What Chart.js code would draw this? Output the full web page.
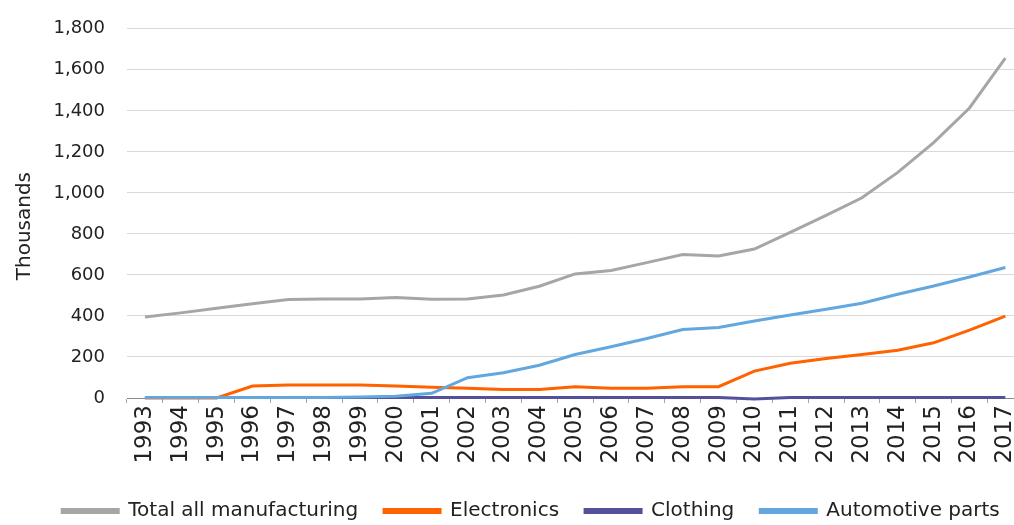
<!DOCTYPE html>
<html>
<head>
<meta charset="utf-8">
<script src="https://cdn.jsdelivr.net/npm/chart.js@4.4.1/dist/chart.umd.min.js"></script>
<style>
  html, body { margin: 0; padding: 0; background: #fff; overflow: hidden; }
  #wrap { position: absolute; left: 0; top: -4px; width: 1035px; height: 529px; }
</style>
</head>
<body>
<div id="wrap"><canvas id="lineChart"></canvas></div>
<script>
const years = ['1993', '1994', '1995', '1996', '1997', '1998', '1999', '2000', '2001', '2002', '2003', '2004', '2005',
    '2006', '2007', '2008', '2009', '2010', '2011', '2012', '2013', '2014', '2015', '2016', '2017'];
const totalManufacturing = [395, 415, 438, 460, 480, 483, 483, 490, 482, 483, 502, 545, 605,
    622, 660, 700, 692, 726, 808, 890, 976, 1100, 1245, 1414, 1657];
const electronics = [0, 0, 0, 58, 63, 63, 63, 58, 53, 47, 42, 42, 55,
    47, 47, 55, 55, 131, 169, 193, 212, 233, 269, 331, 399];
const clothing = [3, 3, 3, 3, 3, 3, 3, 3, 3, 3, 3, 3, 3,
    3, 3, 3, 3, -5, 2, 2, 2, 2, 2, 2, 2];
const automotiveParts = [2, 2, 2, 2, 2, 3, 5, 8, 23, 99, 123, 160, 212,
    250, 290, 334, 344, 375, 405, 433, 462, 506, 546, 590, 636];
const yTicks = [0, 200, 400, 600, 800, 1000, 1200, 1400, 1600, 1800];

const textColor = '#222';

function series(label, data, color) {
    return {
        label: label,
        data: data,
        borderColor: color,
        backgroundColor: color,
        borderWidth: 3,
        pointRadius: 0,
        tension: 0,
        clip: false
    };
}

// nudge the legend row a little to the right
const legendShift = {
    id: 'legendShift',
    afterLayout(chart) {
        chart.legend.left += 15;
        chart.legend.right += 15;
    }
};

// first dataset is painted last, so automotive sits on top; legend is reversed back
new Chart(document.getElementById('lineChart'), {
    type: 'line',
    data: {
        labels: years,
        datasets: [
            series('Automotive parts', automotiveParts, '#63a7de'),
            series('Clothing', clothing, '#54519a'),
            series('Electronics', electronics, '#ff6200'),
            series('Total all manufacturing', totalManufacturing, '#a6a6a6')
        ]
    },
    plugins: [legendShift],
    options: {
        responsive: true,
        maintainAspectRatio: false,
        animation: false,
        layout: { padding: { top: 24, right: 3, bottom: -6, left: 0 } },
        plugins: {
            tooltip: { enabled: false },
            legend: {
                position: 'bottom',
                reverse: true,
                labels: {
                    color: textColor,
                    font: { family: 'DejaVu Sans', size: 20 },
                    boxWidth: 56,
                    boxHeight: 3,
                    padding: 26
                }
            }
        },
        scales: {
            x: {
                offset: true,
                grid: { offset: true, drawOnChartArea: false, tickLength: 5, color: '#a6a6a6' },
                border: { color: '#8c8c8c' },
                ticks: {
                    autoSkip: false,
                    minRotation: 90,
                    maxRotation: 90,
                    padding: 2,
                    color: textColor,
                    font: { family: 'DejaVu Sans', size: 23 }
                },
                afterFit: scale => { scale.height = 77; }
            },
            y: {
                min: 0,
                max: 1800,
                afterBuildTicks: scale => { scale.ticks = yTicks.map(v => ({ value: v })); },
                grid: { color: '#d9d9d9', drawTicks: false },
                border: { display: false },
                ticks: {
                    padding: 22,
                    color: textColor,
                    font: { family: 'DejaVu Sans', size: 18 },
                    callback: v => v.toLocaleString('en-US')
                },
                title: {
                    display: true,
                    text: 'Thousands    ',
                    color: textColor,
                    font: { family: 'DejaVu Sans', size: 20 },
                    padding: { top: 13, bottom: 0 }
                },
                afterFit: scale => { scale.width = 127; }
            }
        }
    }
});
</script>
</body>
</html>
